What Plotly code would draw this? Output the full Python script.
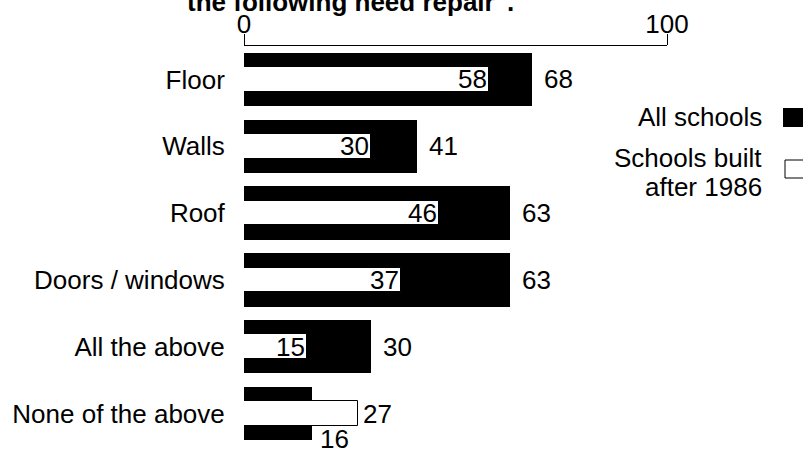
import plotly.graph_objects as go

categories = ["Floor", "Walls", "Roof", "Doors / windows", "All the above", "None of the above"]
all_schools = [68, 41, 63, 63, 30, 16]
after_1986 = [58, 30, 46, 37, 15, 27]
tick_values = [0, 100]
tick_labels = ["0", "100"]
title_text = 'the following need repair".'
legend_all = "All schools"
legend_new_1 = "Schools built"
legend_new_2 = "after 1986"

W, H = 803, 452
ML, MR, MT, MB = 244, 136, 46, 5
PW, PH = W - ML - MR, H - MT - MB
FONT = "Liberation Sans, Arial, sans-serif"
FS = 26


def px_x(px):
    return (px - ML) / PW


def px_y(py):
    return 1 - (py - MT) / PH


fig = go.Figure()
fig.add_trace(go.Bar(
    y=categories, x=all_schools, orientation="h", width=0.8,
    marker=dict(color="black", line=dict(width=0)), name=legend_all,
    showlegend=False, hoverinfo="skip"))
fig.add_trace(go.Bar(
    y=categories, x=after_1986, orientation="h", width=0.37,
    marker=dict(color="white", line=dict(color="black", width=1)), name=legend_new_1,
    showlegend=False, hoverinfo="skip"))

annotations = []
for cat, a, n in zip(categories, all_schools, after_1986):
    if n <= a:
        annotations.append(dict(x=n, y=cat, xref="x", yref="y", text=str(n),
                                xanchor="right", yanchor="middle", xshift=0,
                                showarrow=False, font=dict(size=FS, color="black", family=FONT)))
        annotations.append(dict(x=a, y=cat, xref="x", yref="y", text=str(a),
                                xanchor="left", yanchor="middle", xshift=10,
                                showarrow=False, font=dict(size=FS, color="black", family=FONT)))
    else:
        annotations.append(dict(x=n, y=cat, xref="x", yref="y", text=str(n),
                                xanchor="left", yanchor="middle", xshift=3,
                                showarrow=False, font=dict(size=FS, color="black", family=FONT)))
        annotations.append(dict(x=a, y=cat, xref="x", yref="y", text=str(a),
                                xanchor="left", yanchor="middle", xshift=6, yshift=-25,
                                showarrow=False, font=dict(size=FS, color="black", family=FONT)))

# title (cut at top as in reference)
annotations.append(dict(x=px_x(350), y=px_y(2), xref="paper", yref="paper", text=title_text,
                        xanchor="center", yanchor="middle", showarrow=False,
                        font=dict(size=FS, color="black", family=FONT, weight="bold")))
# legend texts
annotations.append(dict(x=px_x(764), y=px_y(117), xref="paper", yref="paper", text=legend_all,
                        xanchor="right", yanchor="middle", showarrow=False,
                        font=dict(size=FS, color="black", family=FONT)))
annotations.append(dict(x=px_x(764), y=px_y(158), xref="paper", yref="paper", text=legend_new_1,
                        xanchor="right", yanchor="middle", showarrow=False,
                        font=dict(size=FS, color="black", family=FONT)))
annotations.append(dict(x=px_x(764), y=px_y(187), xref="paper", yref="paper", text=legend_new_2,
                        xanchor="right", yanchor="middle", showarrow=False,
                        font=dict(size=FS, color="black", family=FONT)))

shapes = [
    dict(type="rect", xref="paper", yref="paper", x0=px_x(783), x1=px_x(806),
         y0=px_y(127), y1=px_y(108), fillcolor="black", line=dict(width=0)),
    dict(type="rect", xref="paper", yref="paper", x0=px_x(785), x1=px_x(806),
         y0=px_y(178), y1=px_y(160), fillcolor="white", line=dict(color="black", width=1)),
]

fig.update_layout(
    width=W, height=H,
    margin=dict(l=ML, r=MR, t=MT, b=MB, autoexpand=False),
    paper_bgcolor="white", plot_bgcolor="white",
    barmode="overlay", bargap=0,
    font=dict(family=FONT, size=FS, color="black"),
    annotations=annotations, shapes=shapes,
    xaxis=dict(range=[0, 100], side="top", showgrid=False, zeroline=False,
               showline=True, linecolor="black", linewidth=1,
               tickmode="array", tickvals=tick_values, ticktext=tick_labels,
               ticks="outside", ticklen=11, tickcolor="black", tickwidth=1,
               ticklabelstandoff=-9,
               tickfont=dict(size=FS, family=FONT, color="black")),
    yaxis=dict(type="category", categoryorder="array", categoryarray=categories,
               range=[5.5, -0.5], showgrid=False, zeroline=False, showline=False,
               ticks="outside", ticklen=13, tickcolor="rgba(0,0,0,0)",
               tickfont=dict(size=FS, family=FONT, color="black")),
)

fig.write_html(
    "out.html",
    config={"displayModeBar": False},
    post_script="document.body.style.margin='0';document.body.style.overflow='hidden';",
)
